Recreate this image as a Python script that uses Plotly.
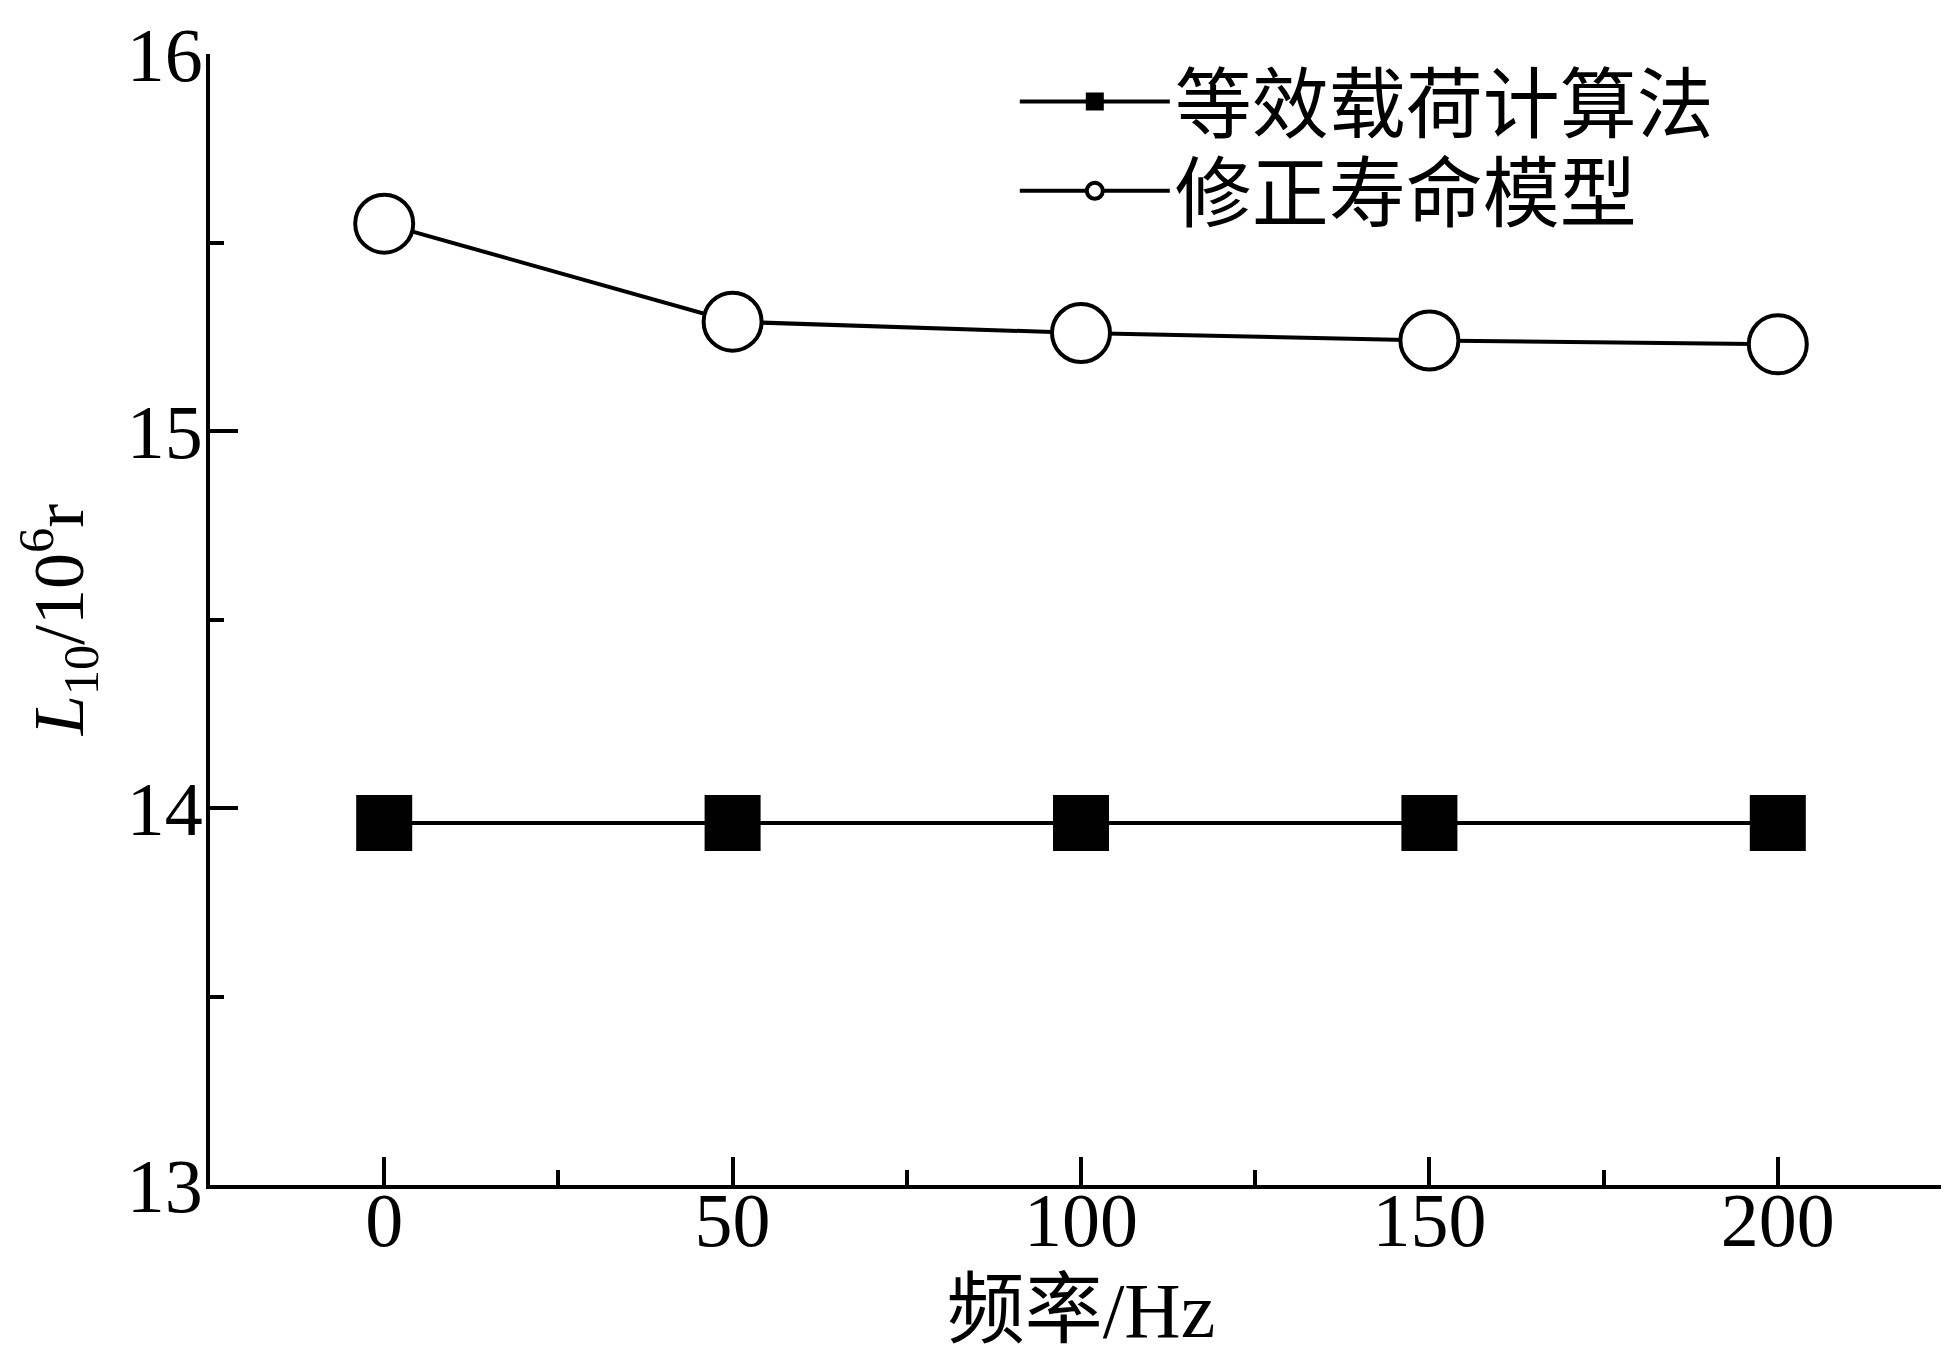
import plotly.graph_objects as go

freq = [0, 50, 100, 150, 200]
equiv_load = [13.96, 13.96, 13.96, 13.96, 13.96]
modified_model = [15.55, 15.29, 15.26, 15.24, 15.23]
name_equiv = "等效载荷计算法"
name_mod = "修正寿命模型"
x_title = "频率/Hz"
y_title = "<i>L</i><sub>10</sub>/10<sup>6</sup>r"

serif = "Liberation Serif, Times New Roman, Noto Sans CJK SC, serif"
cjk = "Noto Sans CJK SC, sans-serif"

fig = go.Figure()
fig.add_trace(go.Scatter(
    x=freq, y=equiv_load, name=name_equiv, mode="lines+markers",
    line=dict(color="black", width=4),
    marker=dict(symbol="square", size=54, color="black",
                line=dict(color="black", width=2)),
    legend="legend",
))
fig.add_trace(go.Scatter(
    x=freq, y=modified_model, name=name_mod, mode="lines+markers",
    line=dict(color="black", width=4),
    marker=dict(symbol="circle", size=58, color="white",
                line=dict(color="black", width=4)),
    legend="legend2",
))

axis_common = dict(
    showline=True, linecolor="black", linewidth=4, mirror=False,
    showgrid=False, zeroline=False, ticks="inside", tickcolor="black",
    tickwidth=4, tickfont=dict(family=serif, size=76, color="black"),
)

fig.update_xaxes(
    range=[-25, 225], tick0=0, dtick=50, ticklen=28,
    ticklabelstandoff=-34,
    minor=dict(ticks="inside", dtick=25, tick0=0, ticklen=15,
               tickwidth=4, tickcolor="black"),
    title=dict(text=x_title, font=dict(family=serif, size=78, color="black"),
               standoff=22),
    **axis_common,
)
fig.update_yaxes(
    range=[13, 16], tick0=13, dtick=1, ticklen=28,
    ticklabelstandoff=-12,
    minor=dict(ticks="inside", dtick=0.5, tick0=13, ticklen=14,
               tickwidth=4, tickcolor="black"),
    title=dict(text=y_title, font=dict(family=serif, size=72, color="black"),
               standoff=30),
    **axis_common,
)

legend_common = dict(
    x=0.462, xanchor="left", yanchor="top",
    bgcolor="rgba(0,0,0,0)", borderwidth=0,
    font=dict(family=cjk, size=77, color="black"),
    itemwidth=150, itemsizing="trace",
)

fig.update_layout(
    width=1949, height=1354,
    margin=dict(l=202, r=5, t=46, b=177, autoexpand=False),
    paper_bgcolor="white", plot_bgcolor="white",
    showlegend=True,
    legend=dict(y=1.008, **legend_common),
    legend2=dict(y=0.929, **legend_common),
)

fig.write_html("out.html")
